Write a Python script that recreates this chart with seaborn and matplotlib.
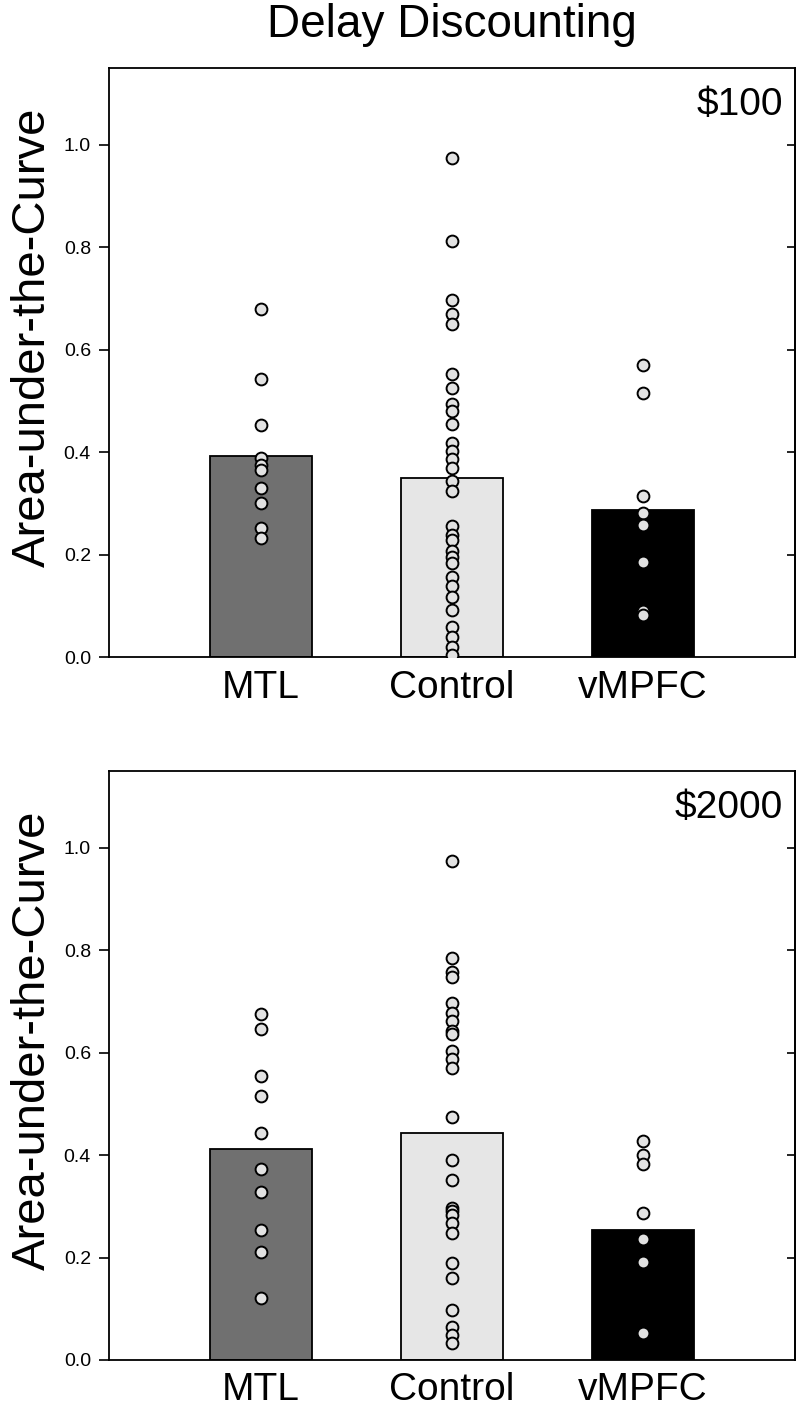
import matplotlib
matplotlib.use("Agg")
import matplotlib.pyplot as plt
import seaborn as sns
import pandas as pd

groups = ["MTL", "Control", "vMPFC"]
bar_colors = ["#707070", "#e6e6e6", "#000000"]

mtl_100 = [0.679, 0.543, 0.453, 0.388, 0.375, 0.365, 0.330, 0.301, 0.252, 0.232]
control_100 = [0.974, 0.812, 0.697, 0.669, 0.650, 0.552, 0.526, 0.493, 0.480, 0.454,
               0.418, 0.402, 0.386, 0.369, 0.343, 0.325, 0.255, 0.239, 0.229, 0.206,
               0.196, 0.183, 0.157, 0.138, 0.118, 0.092, 0.059, 0.040, 0.020, 0.004]
vmpfc_100 = [0.571, 0.515, 0.314, 0.281, 0.258, 0.185, 0.089, 0.082]

mtl_2000 = [0.675, 0.646, 0.554, 0.515, 0.444, 0.372, 0.328, 0.254, 0.211, 0.121]
control_2000 = [0.975, 0.784, 0.757, 0.747, 0.698, 0.678, 0.662, 0.643, 0.636, 0.603,
                0.588, 0.571, 0.475, 0.390, 0.352, 0.297, 0.290, 0.284, 0.268, 0.248,
                0.189, 0.160, 0.098, 0.065, 0.049, 0.033]
vmpfc_2000 = [0.427, 0.401, 0.382, 0.287, 0.237, 0.192, 0.053, 0.052]

panel_labels = ["$100", "$2000"]
yticks = [0.0, 0.2, 0.4, 0.6, 0.8, 1.0]


def make_df(mtl, ctrl, vm):
    rows = []
    for g, vals in zip(groups, [mtl, ctrl, vm]):
        for v in vals:
            rows.append({"group": g, "auc": v})
    return pd.DataFrame(rows)


panels = [make_df(mtl_100, control_100, vmpfc_100),
          make_df(mtl_2000, control_2000, vmpfc_2000)]

sns.set_theme(style="ticks")
plt.rcParams["font.family"] = ["Liberation Sans", "DejaVu Sans"]
plt.rcParams["mathtext.default"] = "regular"
for k in ["text.color", "axes.labelcolor", "xtick.color", "ytick.color",
          "axes.edgecolor"]:
    plt.rcParams[k] = "black"

fig = plt.figure(figsize=(8, 14.12), dpi=100)
W, H = 800, 1412
axes_px = [(109, 68, 795, 657), (109, 771, 795, 1360)]

for (x0, y0, x1, y1), df, lab in zip(axes_px, panels, panel_labels):
    ax = fig.add_axes([x0 / W, 1 - y1 / H, (x1 - x0) / W, (y1 - y0) / H])
    sns.barplot(data=df, x="group", y="auc", hue="group", order=groups,
                hue_order=groups, palette=bar_colors, errorbar=None,
                width=0.534, edgecolor="black", linewidth=1.3, legend=False,
                ax=ax, zorder=2)
    sns.stripplot(data=df, x="group", y="auc", order=groups, jitter=False,
                  color="#e2e2e2", edgecolor="black", linewidth=1.4, size=8.5,
                  ax=ax, zorder=3)
    ax.set_xlim(-0.796, 2.796)
    ax.set_ylim(0, 1.15)
    ax.set_yticks(yticks)
    ax.set_yticklabels([f"{t:.1f}" for t in yticks], fontsize=14)
    ax.tick_params(axis="y", direction="out", length=7, width=1.2, pad=6,
                   colors="black")
    ax.tick_params(axis="x", length=0, pad=9, labelsize=28, colors="black")
    for s in ax.spines.values():
        s.set_visible(True)
        s.set_linewidth(1.3)
        s.set_color("black")
    sec = ax.secondary_yaxis("right")
    sec.set_yticks(yticks[1:])
    sec.tick_params(direction="in", length=6, width=1.2, labelright=False)
    sec.spines["right"].set_linewidth(1.3)
    ax.set_xlabel("")
    ax.set_ylabel("Area-under-the-Curve", fontsize=34)
    ax.yaxis.set_label_coords(-0.079, 0.542)
    ax.text(0.9825, 0.92, lab.replace("$", r"\$"), transform=ax.transAxes,
            ha="right", va="baseline", fontsize=28)

fig.text(452 / W, 1 - 37 / H, "Delay Discounting", ha="center",
         va="baseline", fontsize=33)

fig.savefig("out.png", dpi=100)
